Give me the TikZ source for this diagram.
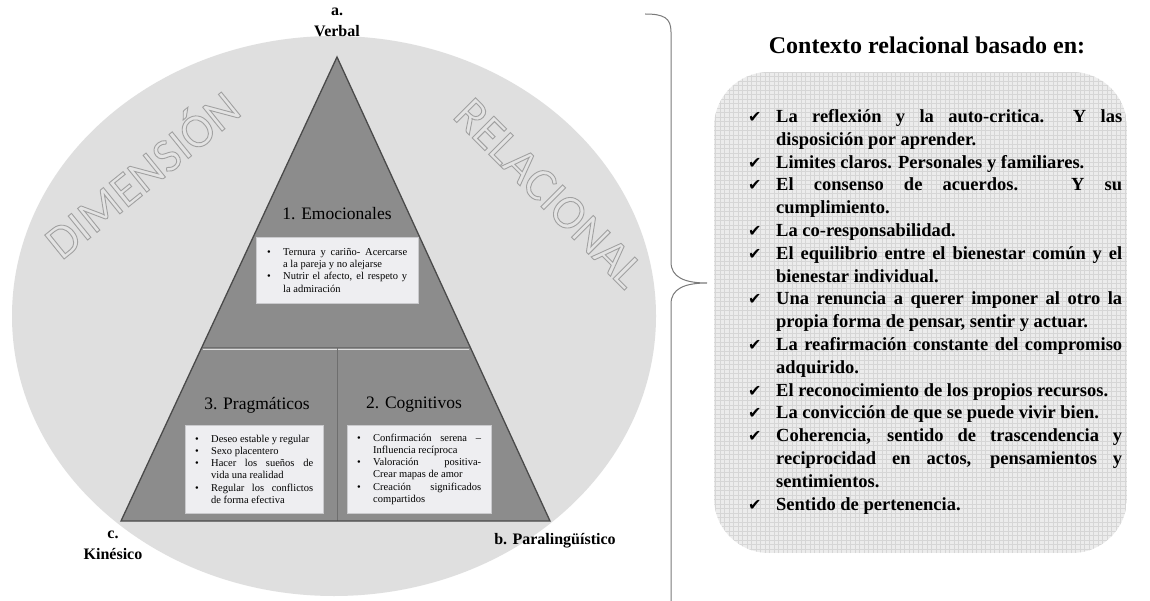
\documentclass[tikz,border=0pt]{standalone}
\usepackage{fontspec}
\setmainfont{Liberation Serif}
\newfontfamily\sansf{Carlito}
\newfontfamily\symf{DejaVu Sans}
\usetikzlibrary{calc}
\definecolor{ellfill}{HTML}{DFDFDF}
\definecolor{trifill}{HTML}{8C8C8C}
\definecolor{triline}{HTML}{4A4A4A}
\definecolor{boxfill}{HTML}{EEEEF1}
\definecolor{wordfill}{HTML}{E3E3E3}
\definecolor{ctxfill}{HTML}{ECECEC}
\definecolor{ctxgrid}{HTML}{D6D6D6}
\definecolor{bracec}{HTML}{7A7A7A}
\newcommand\bitem[1]{\hangindent=16pt\hangafter=1\noindent\hbox to 16pt{\textbullet\hfil}#1\par}
\newcommand\citem[1]{\hangindent=28pt\hangafter=1\noindent\hbox to 28pt{\symf\fontsize{16}{16}\selectfont ✔\hfil}#1\par}
\newcommand\outlined[1]{\special{pdf:literal direct 0.63 G 2 Tr 0.9 w}#1\special{pdf:literal direct 0 Tr}}
\tikzset{
  heading/.style={font=\fontsize{17.5}{20}\selectfont, inner sep=0pt},
  whitebox/.style={fill=boxfill, draw=boxfill!85!black, line width=0.4pt, align=justify,
    font=\fontsize{10.5}{12.3}\selectfont, anchor=north west, inner ysep=5pt},
  vlabel/.style={font=\bfseries\fontsize{16}{21}\selectfont, inner sep=0pt, align=center},
  bigword/.style={font=\sansf\fontsize{48}{48}\selectfont, inner sep=0pt, text=wordfill},
}
\begin{document}
\begin{tikzpicture}[x=1pt,y=-1pt]
\useasboundingbox (0,0) rectangle (1150,601);
\fill[white] (0,0) rectangle (1150,601);
% ellipse
\fill[ellfill] (334,316) ellipse [x radius=322pt, y radius=280pt];
% outlined words
\node[bigword, rotate=39] (dim) at (140,172) {\outlined{DIMENSIÓN}};
\node[bigword, rotate=-45] (rel) at (549,193) {\outlined{RELACIONAL}};
% triangle
\coordinate (A) at (337,57);
\coordinate (B) at (550,521);
\coordinate (C) at (121,521);
\fill[trifill] (A) -- (B) -- (C) -- cycle;
\coordinate (ML) at ($(A)!0.625!(C)$);
\coordinate (MR) at ($(A)!0.625!(B)$);
\coordinate (MT) at (337,347);
\coordinate (MB) at (337,521);
\draw[triline!80, line width=1pt] (ML) -- (MR);
\draw[white!70!trifill, line width=0.8pt] ($(ML)+(1,2.5)$) -- ($(MR)+(-1,2.5)$);
\draw[triline!80, line width=1pt] (MT) -- (MB);
\draw[triline, line width=1.3pt, line join=miter] (A) -- (B) -- (C) -- cycle;
% headings
\node[heading] (h1) at (337,214) {1. Emocionales};
\node[heading] (h3) at (257,405) {3. Pragmáticos};
\node[heading] (h2) at (414,405) {2. Cognitivos};
% white boxes
\node[whitebox, text width=140pt, inner xsep=11pt, minimum height=66pt] (b1) at (256,237) {%
\bitem{Ternura y cariño- Acercarse\linebreak a la pareja y no alejarse}
\bitem{Nutrir el afecto, el respeto y\linebreak la admiración}};
\node[whitebox, text width=118pt, inner xsep=10pt, minimum height=88pt] (b3) at (185,425) {%
\bitem{Deseo estable y regular}
\bitem{Sexo placentero}
\bitem{Hacer los sueños de\linebreak vida una realidad}
\bitem{Regular los conflictos\linebreak de forma efectiva}};
\node[whitebox, text width=124pt, inner xsep=10pt, minimum height=88pt] (b2) at (347,425) {%
\bitem{Confirmación serena –\linebreak Influencia recíproca}
\bitem{Valoración positiva-\linebreak Crear mapas de amor}
\bitem{Creación significados\linebreak compartidos}};
% vertex labels
\node[vlabel] (la) at (337,22) {a.\\Verbal};
\node[vlabel] (lc) at (113,545) {c.\\Kinésico};
\node[vlabel] (lb) at (555,541) {b. Paralingüístico};
% brace
\coordinate (btop) at (645,14);
\coordinate (tip) at (707,283);
\coordinate (bbot) at (671,601);
\draw[bracec, line width=1pt] (btop) .. controls (664,14) and (671,18) .. (671,32)
  -- (671,262) .. controls (671,277) and (684,283) .. (tip)
  .. controls (684,283) and (671,289) .. (671,304) -- (bbot);
% title
\node[font=\bfseries\fontsize{24}{28}\selectfont, inner sep=0pt] (title) at (927,45) {Contexto relacional basado en:};
% grid box
\begin{scope}
\clip[rounded corners=55pt] (714,72) rectangle (1127,553);
\fill[ctxfill] (714,72) rectangle (1127,553);
\draw[ctxgrid, line width=0.5pt, step=4.5pt] (714,72) grid (1127,553);
\end{scope}
\node[anchor=base west, inner sep=0pt, text width=374pt, align=justify,
  font=\bfseries\fontsize{18.5}{22.8}\selectfont] (list) at (748,122.5) {%
\citem{La reflexión y la auto-critica.\ \ Y las\linebreak disposición por aprender.}
\citem{Limites claros. Personales y familiares.}
\citem{El consenso de acuerdos. Y su\linebreak cumplimiento.}
\citem{La co-responsabilidad.}
\citem{El equilibrio entre el bienestar común y el\linebreak bienestar individual.}
\citem{Una renuncia a querer imponer al otro la\linebreak propia forma de pensar, sentir y actuar.}
\citem{La reafirmación constante del compromiso\linebreak adquirido.}
\citem{El reconocimiento de los propios recursos.}
\citem{La convicción de que se puede vivir bien.}
\citem{Coherencia, sentido de trascendencia y\linebreak reciprocidad en actos, pensamientos y\linebreak sentimientos.}
\citem{Sentido de pertenencia.}};
\end{tikzpicture}
\end{document}
